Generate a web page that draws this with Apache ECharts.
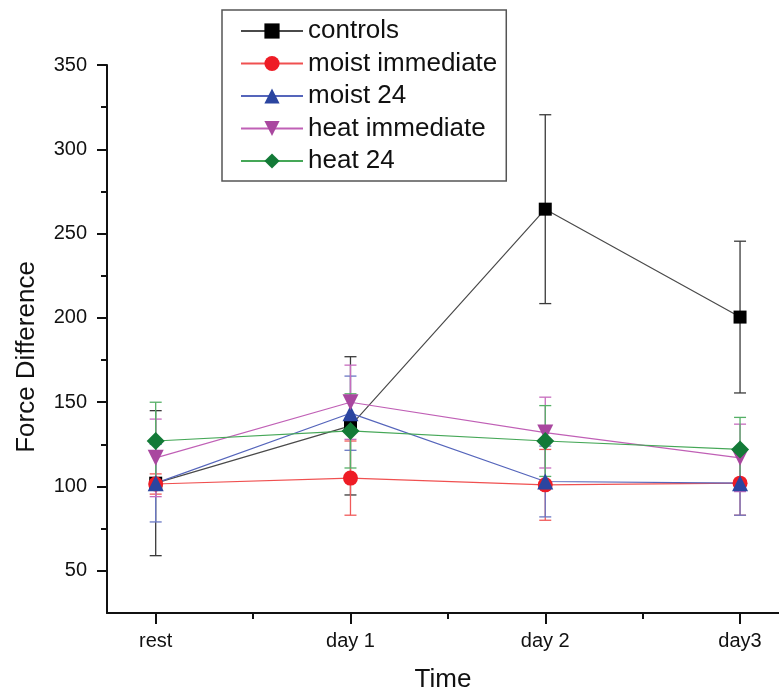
<!DOCTYPE html>
<html>
<head>
<meta charset="utf-8">
<script src="https://cdn.jsdelivr.net/npm/echarts@6/dist/echarts.min.js"></script>
<style>
html,body{margin:0;padding:0;background:#fff;}
#chart{width:779px;height:698px;}
</style>
</head>
<body>
<div id="chart"></div>
<script>
// ---- data ----
const categories = ['rest', 'day 1', 'day 2', 'day3'];
const xPositions = [1, 2, 3, 4];
const xMinorTicks = [1.5, 2.5, 3.5];
const yTicks = [50, 100, 150, 200, 250, 300, 350];
const yMinorTicks = [75, 125, 175, 225, 275, 325];

const seriesNames = ['controls', 'moist immediate', 'moist 24', 'heat immediate', 'heat 24'];
const controls = [102, 136, 264.5, 200.5];
const controlsErr = [43, 41, 56, 45];
const moistImmediate = [101.5, 105, 101, 102];
const moistImmediateErr = [6, 22, 21, 19];
const moist24 = [102, 143.5, 103, 102];
const moist24Err = [23, 22, 21, 19];
const heatImmediate = [117, 150, 132, 117];
const heatImmediateErr = [23, 22, 21, 20];
const heat24 = [127, 133, 127, 122];
const heat24Err = [23, 22, 21, 19];

// ---- styles ----
const FONT = 'Liberation Sans, Arial, sans-serif';
const styles = [
  {marker: '#000000', line: '#4a4a4a', err: '#3a3a3a', symbol: 'rect', size: 13},
  {marker: '#ee1c25', line: '#f05050', err: '#f05a5a', symbol: 'circle', size: 15},
  {marker: '#2b45a0', line: '#5565bb', err: '#6a78c4', symbol: 'triangle', size: 16},
  {marker: '#a9479f', line: '#c060b6', err: '#c76cbe', symbol: 'path://M0,0 L10,0 L5,9 Z', size: 16},
  {marker: '#137a37', line: '#45a757', err: '#55b066', symbol: 'diamond', size: 18}
];
const means = [controls, moistImmediate, moist24, heatImmediate, heat24];
const errs = [controlsErr, moistImmediateErr, moist24Err, heatImmediateErr, heat24Err];

const series = [];
// error bars
means.forEach((m, si) => {
  series.push({
    type: 'custom',
    name: seriesNames[si] + ' err',
    xAxisIndex: 0, yAxisIndex: 0,
    z: 2,
    silent: true,
    data: m.map((v, i) => [xPositions[i], v - errs[si][i], v + errs[si][i]]),
    renderItem: function (params, api) {
      const x = api.value(0);
      const lo = api.coord([x, api.value(1)]);
      const hi = api.coord([x, api.value(2)]);
      const cw = 6;
      const st = {stroke: styles[si].err, lineWidth: 1.3};
      return {
        type: 'group',
        children: [
          {type: 'line', shape: {x1: lo[0], y1: lo[1], x2: hi[0], y2: hi[1]}, style: st},
          {type: 'line', shape: {x1: lo[0] - cw, y1: lo[1], x2: lo[0] + cw, y2: lo[1]}, style: st},
          {type: 'line', shape: {x1: hi[0] - cw, y1: hi[1], x2: hi[0] + cw, y2: hi[1]}, style: st}
        ]
      };
    }
  });
});
// lines
means.forEach((m, si) => {
  series.push({
    type: 'line',
    name: seriesNames[si],
    xAxisIndex: 0, yAxisIndex: 0,
    z: 3,
    data: m.map((v, i) => [xPositions[i], v]),
    symbol: styles[si].symbol,
    symbolSize: styles[si].size,
    showAllSymbol: true,
    lineStyle: {color: styles[si].line, width: 1.2},
    itemStyle: {color: styles[si].marker},
    emphasis: {disabled: true},
    animation: false
  });
});

const chart = echarts.init(document.getElementById('chart'), null, {renderer: 'canvas'});
chart.setOption({
  animation: false,
  backgroundColor: '#ffffff',
  textStyle: {fontFamily: FONT},
  grid: {left: 107, right: 0, top: 65, bottom: 83, containLabel: false},
  legend: {
    data: seriesNames,
    orient: 'vertical',
    left: 222, top: 10,
    padding: [8, 9, 7, 18],
    borderColor: '#555',
    borderWidth: 1.5,
    itemWidth: 62,
    itemHeight: 19,
    itemGap: 6.5,
    textStyle: {fontSize: 26, fontFamily: FONT, color: '#111', lineHeight: 26},
    selectedMode: false
  },
  xAxis: [
    {
      type: 'value', min: 0.75, max: 4.2,
      position: 'bottom',
      name: 'Time', nameLocation: 'middle', nameGap: 54,
      nameTextStyle: {fontSize: 26, fontFamily: FONT, color: '#111'},
      axisLine: {show: true, onZero: false, lineStyle: {color: '#111', width: 2}},
      axisTick: {show: true, length: 11, lineStyle: {color: '#111', width: 2}, customValues: xPositions},
      axisLabel: {show: true, margin: 18, fontSize: 20, fontFamily: FONT, color: '#111',
        customValues: xPositions,
        formatter: v => categories[xPositions.indexOf(v)] || ''},
      splitLine: {show: false}
    },
    {
      type: 'value', min: 0.75, max: 4.2,
      position: 'bottom',
      axisLine: {show: false, onZero: false},
      axisTick: {show: true, length: 6, lineStyle: {color: '#111', width: 2}, customValues: xMinorTicks},
      axisLabel: {show: false},
      splitLine: {show: false}
    }
  ],
  yAxis: [
    {
      type: 'value', min: 25, max: 350,
      position: 'left',
      axisLine: {show: true, onZero: false, lineStyle: {color: '#111', width: 2}},
      axisTick: {show: true, length: 10, lineStyle: {color: '#111', width: 2}, customValues: yTicks},
      axisLabel: {show: true, margin: 20, fontSize: 20, fontFamily: FONT, color: '#111', customValues: yTicks},
      splitLine: {show: false}
    },
    {
      type: 'value', min: 25, max: 350,
      position: 'left',
      axisLine: {show: false, onZero: false},
      axisTick: {show: true, length: 6, lineStyle: {color: '#111', width: 2}, customValues: yMinorTicks},
      axisLabel: {show: false},
      splitLine: {show: false}
    }
  ],
  graphic: [
    {
      type: 'text',
      x: 27, y: 357,
      rotation: Math.PI / 2,
      style: {text: 'Force Difference', fontSize: 26, fontFamily: FONT, fill: '#111',
        align: 'center', verticalAlign: 'middle'}
    }
  ],
  series: series
});
</script>
</body>
</html>
